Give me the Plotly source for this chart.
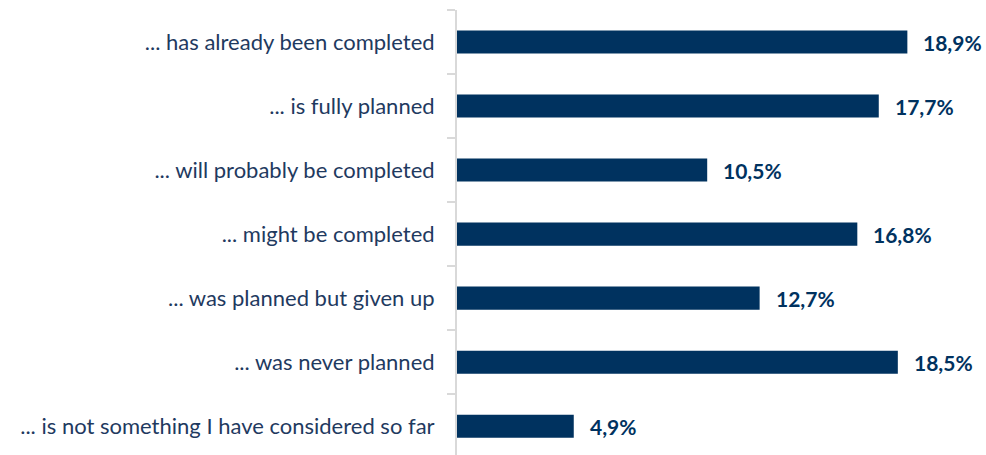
import plotly.graph_objects as go

categories = [
    "... has already been completed",
    "... is fully planned",
    "... will probably be completed",
    "... might be completed",
    "... was planned but given up",
    "... was never planned",
    "... is not something I have considered so far",
]
values = [18.9, 17.7, 10.5, 16.8, 12.7, 18.5, 4.9]
value_labels = ["18,9%", "17,7%", "10,5%", "16,8%", "12,7%", "18,5%", "4,9%"]

navy = "#00325F"

fig = go.Figure()
fig.add_trace(go.Bar(
    x=values, y=categories, orientation="h",
    marker=dict(color=navy, line=dict(width=0)),
    width=0.36, hoverinfo="skip",
))
for v, c, t in zip(values, categories, value_labels):
    fig.add_annotation(x=v, y=c, text="<b>" + t + "</b>", showarrow=False,
                       xanchor="left", xshift=14,
                       font=dict(family="Lato", size=21, color=navy))

fig.update_layout(
    width=986, height=455,
    margin=dict(l=457, r=0, t=10, b=0, autoexpand=False),
    plot_bgcolor="white", paper_bgcolor="white",
    showlegend=False,
    font=dict(family="Lato", size=21, color="#1F3A5F"),
)
fig.update_xaxes(range=[0, 22.2], visible=False)
fig.update_yaxes(
    range=[6.45, -0.5], type="category", automargin=False,
    showline=True, linecolor="#D9D9D9", linewidth=2,
    ticks="outside", tickson="boundaries", ticklen=8, tickcolor="#D9D9D9", tickwidth=2,
    showgrid=False, ticklabelstandoff=16,
    tickfont=dict(family="Lato", size=22, color="#1F3A5F"),
)
fig.write_html(
    "out.html",
    config={"displayModeBar": False},
    post_script="document.body.style.margin='0';document.body.style.overflow='hidden';",
)
